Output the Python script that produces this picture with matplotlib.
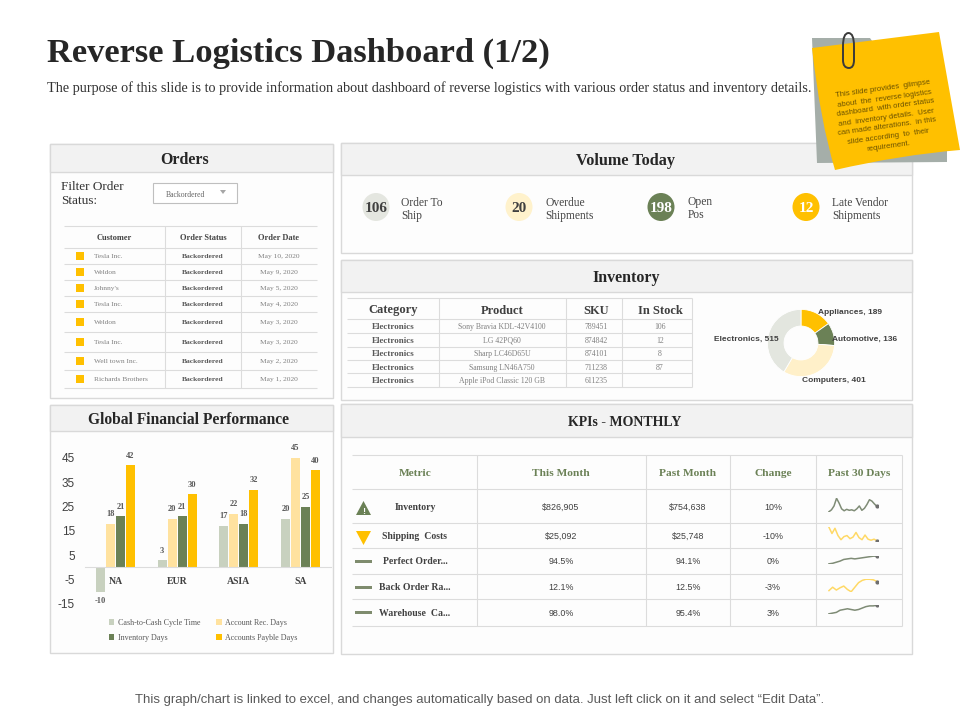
import matplotlib
matplotlib.use('Agg')
import matplotlib.pyplot as plt
from matplotlib.patches import Rectangle, Polygon, Ellipse, PathPatch
from matplotlib.path import Path

SERIF = 'Liberation Serif'
SANS = 'Liberation Sans'
plt.rcParams['axes.unicode_minus'] = False

# Donnees
customers = ['Tesla Inc.', 'Weldon', "Johnny's", 'Tesla Inc.', 'Weldon', 'Tesla Inc.', 'Well town Inc.', 'Richards Brothers']
order_dates = ['May 10, 2020', 'May 9, 2020', 'May 5, 2020', 'May 4, 2020', 'May 3, 2020', 'May 3, 2020', 'May 2, 2020', 'May 1, 2020']

regions = ['NA', 'EUR', 'ASIA', 'SA']
cash_cycle = [-10, 3, 17, 20]
account_rec = [18, 20, 22, 45]
inventory_days = [21, 21, 18, 25]
accounts_payable = [42, 30, 32, 40]

volume_values = ['106', '20', '198', '12']
volume_labels = [('Order To', 'Ship'), ('Overdue', 'Shipments'), ('Open', 'Pos'), ('Late Vendor', 'Shipments')]

products = ['Sony Bravia KDL-42V4100', 'LG 42PQ60', 'Sharp LC46D65U', 'Samsung LN46A750', 'Apple iPod Classic 120 GB']
skus = ['789451', '874842', '874101', '711238', '611235']
in_stock = ['106', '12', '8', '87', '']

donut_names = ['Appliances', 'Automotive', 'Computers', 'Electronics']
donut_values = [189, 136, 401, 515]

metrics = ['Inventory', 'Shipping  Costs', 'Perfect Order...', 'Back Order Ra...', 'Warehouse  Ca...']
this_month = ['$826,905', '$25,092', '94.5%', '12.1%', '98.0%']
past_month = ['$754,638', '$25,748', '94.1%', '12.5%', '95.4%']
change = ['10%', '-10%', '0%', '-3%', '3%']
spark_inventory = [2, 6, 14, 30, 20, 8, 4, 7, 5, 6, 4, 8, 14, 5, 9, 17, 27, 24, 18, 13]
spark_shipping = [30, 18, 28, 14, 6, 12, 14, 8, 11, 20, 10, 6, 15, 7, 5, 7, 4]
spark_perfect = [0, 1, 3, 5, 8, 9, 10, 9, 10, 11, 12, 13, 14, 14]
spark_backorder = [4, 10, 5, 9, 12, 6, 2, 10, 18, 22, 24, 24, 23, 20]
spark_warehouse = [0, 1, 2, 5, 6, 7, 6, 5, 6, 8, 10, 11, 11, 12]

GREEN = '#6B8156'
YELLOW = '#FFC000'
PALE_GREEN = '#C8D1BF'
PALE_YELLOW = '#FFE29F'
LINE = '#DCDCDC'

fig = plt.figure(figsize=(9.6, 7.2), dpi=100, facecolor='white')
ax = fig.add_axes([0, 0, 1, 1])
ax.set_xlim(0, 960)
ax.set_ylim(720, 0)
ax.axis('off')


def px_axes(x0, y0, x1, y1):
    return fig.add_axes([x0 / 960, 1 - y1 / 720, (x1 - x0) / 960, (y1 - y0) / 720])


def txt(x, y, s, size=6, color='#444444', ha='center', weight='normal', family=SERIF, **kw):
    ax.text(x, y, s, fontsize=size, color=color, ha=ha, va='center_baseline', fontweight=weight, family=family, **kw)


def hline(y, x0, x1, lw=0.8, color=LINE):
    ax.plot([x0, x1], [y, y], color=color, lw=lw, solid_capstyle='butt')


def vline(x, y0, y1, lw=0.8, color=LINE):
    ax.plot([x, x], [y0, y1], color=color, lw=lw, solid_capstyle='butt')


def panel(x0, y0, x1, y1, yh, title, tx, size):
    ax.add_patch(Rectangle((x0, y0), x1 - x0, y1 - y0, fc='#FDFDFD', ec='#D9D9D9', lw=1))
    ax.add_patch(Rectangle((x0, y0), x1 - x0, yh - y0, fc='#F2F2F2', ec='#D9D9D9', lw=1))
    txt(tx, (y0 + yh) / 2, title, size=size, color='#262626', weight='bold')


# Titre
txt(47, 50, 'Reverse Logistics Dashboard (1/2)', size=24.8, color='#262626', ha='left', weight='bold')
txt(47, 87, 'The purpose of this slide is to provide information about dashboard of reverse logistics with various order status and inventory details.',
    size=10.3, color='#333333', ha='left')
txt(480, 698, 'This graph/chart is linked to excel, and changes automatically based on data. Just left click on it and select \u201cEdit Data\u201d.',
    size=9.45, color='#595959', family=SANS)

# Panneaux
panel(50, 144, 333, 398, 172, 'Orders', 185, 11.5)
panel(50, 405, 333, 653, 431, 'Global Financial Performance', 189, 11.2)
panel(341, 143, 912, 253, 175, 'Volume Today', 626, 11.7)
panel(341, 260, 912, 400, 292, 'Inventory', 626, 11.5)
panel(341, 404, 912, 654, 437, 'KPIs - MONTHLY', 625, 10)

# Orders
txt(61, 186, 'Filter Order', size=9.5, ha='left', color='#333333')
txt(61, 200, 'Status:', size=9.5, ha='left', color='#333333')
ax.add_patch(Rectangle((153, 183), 84, 20, fc='white', ec='#BFBFBF', lw=0.8))
txt(185, 194, 'Backordered', size=5.6, color='#666666')
ax.add_patch(Polygon([(220, 190), (226, 190), (223, 194)], fc='#A6A6A6', ec='none'))

order_lines = [226, 248, 264, 280, 296, 312, 332, 352, 370, 388]
for y in order_lines:
    hline(y, 64, 317)
for x in [164.5, 240.5]:
    vline(x, 226, 388)
txt(114, 237, 'Customer', size=6, weight='bold')
txt(203, 237, 'Order Status', size=6, weight='bold')
txt(279, 237, 'Order Date', size=6, weight='bold')
for i in range(len(customers)):
    yc = (order_lines[i + 1] + order_lines[i + 2]) / 2
    ax.add_patch(Rectangle((76, yc - 4), 8, 8, fc=YELLOW, ec='none'))
    txt(94, yc, customers[i], size=5.3, color='#808080', ha='left')
    txt(203, yc, 'Backordered', size=5.4, color='#595959', weight='bold')
    txt(279, yc, order_dates[i], size=5.4, color='#808080')

# Barres
bar_ax = px_axes(84.6, 445, 331.4, 610)
bar_ax.patch.set_alpha(0)
bar_ax.spines['bottom'].set_position(('data', 0))
series = [('Cash-to-Cash Cycle Time', cash_cycle, PALE_GREEN), ('Account Rec. Days', account_rec, PALE_YELLOW),
          ('Inventory Days', inventory_days, GREEN), ('Accounts Payble Days', accounts_payable, YELLOW)]
xs = range(len(regions))
handles = []
for k, (name, vals, col) in enumerate(series):
    bars = bar_ax.bar([x + (k - 1.5) * 0.162 for x in xs], vals, width=0.146, color=col, label=name)
    bar_ax.bar_label(bars, padding=4, fontsize=6, fontweight='bold', color='#595959', family=SERIF)
    handles.append(bars)
bar_ax.set_xlim(-0.5, 3.5)
bar_ax.set_ylim(-17.5, 50.3)
bar_ax.set_yticks([-15, -5, 5, 15, 25, 35, 45])
bar_ax.set_xticks(list(xs))
bar_ax.set_xticklabels(regions, fontsize=7, fontweight='bold', color='#404040', family=SERIF)
bar_ax.tick_params(axis='x', length=0, pad=7)
bar_ax.tick_params(axis='y', length=0, pad=7, labelsize=8.5, labelcolor='#404040')
for lab in bar_ax.get_yticklabels():
    lab.set_family(SANS)
for s in ['top', 'right', 'left']:
    bar_ax.spines[s].set_visible(False)
bar_ax.spines['bottom'].set_color(LINE)
bar_ax.legend(handles=[handles[0], handles[2], handles[1], handles[3]], ncols=2, frameon=False, loc='center',
              bbox_to_anchor=((203 - 84.6) / 246.8, (610 - 630.5) / 165),
              prop={'family': SERIF, 'size': 5.8}, labelcolor='#595959', handlelength=0.7, handleheight=0.7,
              handletextpad=0.4, columnspacing=2.0, labelspacing=0.85)

# Volume Today
circle_x = [376, 519, 661, 806]
circle_col = ['#E4E6E0', '#FFF2CC', GREEN, YELLOW]
text_col = ['#404040', '#404040', 'white', 'white']
label_x = [401, 545, 688, 832]
for i in range(4):
    ax.add_patch(Ellipse((circle_x[i], 207), 27, 28, fc=circle_col[i], ec='none'))
    txt(circle_x[i], 207, volume_values[i], size=11, color=text_col[i], weight='bold')
    txt(label_x[i], 201, volume_labels[i][0], size=8.3, ha='left')
    txt(label_x[i], 214, volume_labels[i][1], size=8.3, ha='left')

# Inventory
inv_lines = [298, 319, 333, 347, 360, 373, 387]
for y in inv_lines:
    hline(y, 347, 692)
for x in [439, 566, 622, 692]:
    vline(x, 298, 387)
inv_cols = [393, 502, 596, 660]
for x, head in zip(inv_cols, ['Category', 'Product', 'SKU', 'In Stock']):
    txt(x, 309, head, size=9, color='#404040', weight='bold')
for i in range(len(products)):
    yc = (inv_lines[i + 1] + inv_lines[i + 2]) / 2
    txt(inv_cols[0], yc, 'Electronics', size=6.5, color='#595959', weight='bold')
    txt(inv_cols[1], yc, products[i], size=5.6, color='#808080')
    txt(inv_cols[2], yc, skus[i], size=5.6, color='#808080')
    txt(inv_cols[3], yc, in_stock[i], size=5.6, color='#808080')

# Donut
donut_ax = px_axes(761, 303, 841, 383)
donut_ax.pie(donut_values, colors=[YELLOW, GREEN, '#FFF0C9', '#E3E6DF'], startangle=90, counterclock=False,
             radius=1.05, wedgeprops={'width': 0.52, 'edgecolor': 'white', 'linewidth': 0.6})
lab_pos = [(850.5, 312), (865, 338), (834, 379), (746, 338)]
for (x, y), name, val in zip(lab_pos, donut_names, donut_values):
    donut_ax.text(x, y, f'{name}, {val}', fontsize=6, color='#404040', fontweight='bold', family=SANS,
                  ha='center', va='center_baseline', transform=ax.transData, clip_on=False)

# KPI
kpi_lines = [455, 489, 523, 548, 574, 599, 626]
for y in kpi_lines:
    hline(y, 352, 902)
for x in [477, 646, 730, 816, 902]:
    vline(x, 455, 626)
kpi_cols = [415, 561, 688, 773, 859]
for x, head in zip(kpi_cols, ['Metric', 'This Month', 'Past Month', 'Change', 'Past 30 Days']):
    txt(x, 472, head, size=8.2, color=GREEN, weight='bold')
sparks = [spark_inventory, spark_shipping, spark_perfect, spark_backorder, spark_warehouse]
spark_col = ['#7F8C76', '#FFD966', '#7F8C76', '#FFD966', '#7F8C76']
spark_box = [(498, 512), (527, 541), (556, 564), (579, 592), (605, 614)]
for i in range(len(metrics)):
    yc = (kpi_lines[i + 1] + kpi_lines[i + 2]) / 2
    txt(415, yc, metrics[i], size=7, color='#404040', weight='bold')
    txt(561, yc, this_month[i], size=6.4, color='#404040', family=SANS)
    txt(688, yc, past_month[i], size=6.4, color='#404040', family=SANS)
    txt(773, yc, change[i], size=6.4, color='#404040', family=SANS)
    sp = px_axes(828, spark_box[i][0], 878, spark_box[i][1])
    sp.plot(range(len(sparks[i])), sparks[i], color=spark_col[i], lw=1.1)
    sp.plot(len(sparks[i]) - 1, sparks[i][-1], 'o', ms=2, color='#6E6E6E')
    sp.margins(0.02)
    sp.axis('off')
ax.add_patch(Polygon([(356, 515), (371, 515), (363.5, 501)], fc=GREEN, ec='none'))
txt(363.5, 510, '!', size=6.5, color='white', weight='bold', family=SANS)
ax.add_patch(Polygon([(356, 531), (371, 531), (363.5, 545)], fc=YELLOW, ec='none'))
for y in [561, 587, 612]:
    ax.add_patch(Rectangle((355, y - 1.5), 17, 3, fc='#7F8C6E', ec='none'))

# Post-it
ax.add_patch(Polygon([(812, 38), (870, 38), (947, 150), (947, 162), (817, 163)], fc='#A5AEA9', ec='none', zorder=7))
note_path = Path([(812, 48), (939, 32), (960, 150), (900, 155), (835, 170), (820, 120), (812, 48)],
                 [Path.MOVETO, Path.LINETO, Path.LINETO, Path.CURVE3, Path.CURVE3, Path.CURVE3, Path.CURVE3])
ax.add_patch(PathPatch(note_path, fc=YELLOW, ec='none', zorder=8))
note = ['This slide provides  glimpse', 'about  the  reverse logistics', 'dashboard  with order status',
        'and  inventory details.  User', 'can made alterations.  in this', 'slide according  to  their', 'requirement.']
for i, line in enumerate(note):
    txt(883 + i, 88 + i * 9.5, line, size=5.6, color='#6B5200', family=SANS, rotation=8, zorder=9, rotation_mode='anchor')
clip = Path([(854, 46), (854, 33), (848.5, 33), (843, 33), (843, 46), (843, 60), (843, 68), (849, 68), (854, 68), (854, 60), (854, 46)],
            [Path.MOVETO, Path.CURVE3, Path.CURVE3, Path.CURVE3, Path.CURVE3, Path.LINETO, Path.CURVE3, Path.CURVE3, Path.CURVE3, Path.CURVE3, Path.LINETO])
ax.add_patch(PathPatch(clip, fc='none', ec='#3A3A3A', lw=1.4, zorder=10))

fig.savefig('out.png', dpi=100)
